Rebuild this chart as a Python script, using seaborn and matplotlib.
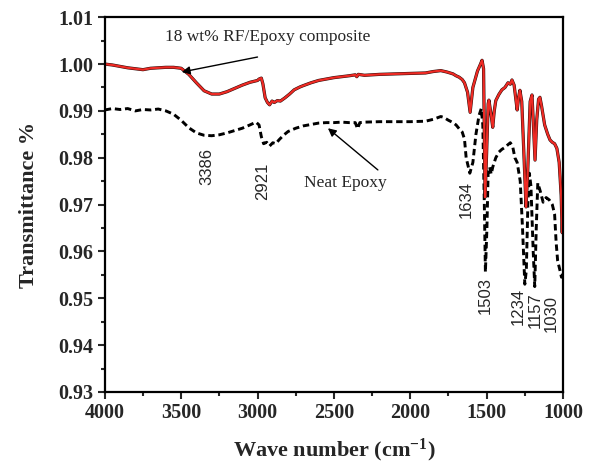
import matplotlib
matplotlib.use("Agg")
import matplotlib.pyplot as plt
import seaborn as sns
import pandas as pd
from matplotlib.ticker import AutoMinorLocator

# ---- data ----
wn_composite = [4000, 3950, 3900, 3850, 3800, 3750, 3700, 3650, 3600, 3550, 3500, 3450, 3400, 3350,
                3300, 3250, 3200, 3150, 3100, 3050, 3000, 2990, 2975, 2965, 2950, 2935, 2921, 2905,
                2890, 2870, 2850, 2820, 2790, 2760, 2723, 2700, 2650, 2600, 2550, 2500, 2450, 2400,
                2360, 2350, 2340, 2300, 2250, 2200, 2100, 2000, 1900, 1850, 1800, 1760, 1720, 1700,
                1680, 1660, 1645, 1625, 1608, 1590, 1560, 1540, 1530, 1520, 1510, 1500, 1490, 1485,
                1470, 1460, 1450, 1440, 1420, 1400, 1380, 1360, 1345, 1334, 1320, 1300, 1290, 1282,
                1270, 1255, 1242, 1232, 1215, 1203, 1195, 1183, 1172, 1160, 1151, 1140, 1120, 1100,
                1085, 1070, 1055, 1040, 1025, 1012, 1005, 1000]
t_composite = [1.0000, 0.9998, 0.9995, 0.9992, 0.9990, 0.9988, 0.9991, 0.9992, 0.9993, 0.9993, 0.9991,
               0.9978, 0.9960, 0.9943, 0.9936, 0.9936, 0.9941, 0.9948, 0.9955, 0.9961, 0.9965, 0.9968,
               0.9970, 0.9958, 0.9928, 0.9918, 0.9913, 0.9921, 0.9918, 0.9922, 0.9921, 0.9928, 0.9936,
               0.9945, 0.9951, 0.9954, 0.9960, 0.9965, 0.9968, 0.9971, 0.9973, 0.9975, 0.9977, 0.9973,
               0.9978, 0.9976, 0.9977, 0.9978, 0.9979, 0.9980, 0.9981, 0.9984, 0.9986, 0.9983, 0.9979,
               0.9975, 0.9972, 0.9967, 0.9960, 0.9940, 0.9897, 0.9950, 0.9985, 1.0000, 1.0008, 0.9990,
               0.9716, 0.9810, 0.9915, 0.9923, 0.9890, 0.9865, 0.9900, 0.9922, 0.9935, 0.9945, 0.9950,
               0.9960, 0.9957, 0.9966, 0.9955, 0.9902, 0.9930, 0.9944, 0.9920, 0.9800, 0.9695, 0.9760,
               0.9920, 0.9934, 0.9880, 0.9795, 0.9880, 0.9925, 0.9929, 0.9910, 0.9870, 0.9850, 0.9838,
               0.9833, 0.9830, 0.9820, 0.9790, 0.9720, 0.9640, 0.9700]

wn_neat = [4000, 3950, 3900, 3850, 3800, 3750, 3700, 3650, 3600, 3550, 3500, 3450, 3400, 3350, 3300,
           3250, 3200, 3150, 3100, 3050, 3010, 2990, 2975, 2960, 2940, 2921, 2900, 2880, 2860, 2830,
           2800, 2750, 2700, 2650, 2600, 2550, 2500, 2450, 2400, 2360, 2345, 2330, 2300, 2200, 2100,
           2000, 1900, 1850, 1800, 1780, 1750, 1720, 1700, 1680, 1660, 1645, 1634, 1610, 1590, 1570,
           1550, 1535, 1525, 1515, 1508, 1498, 1490, 1480, 1470, 1460, 1440, 1420, 1400, 1380, 1360,
           1345, 1330, 1315, 1300, 1280, 1265, 1250, 1240, 1230, 1220, 1210, 1195, 1185, 1175, 1165,
           1150, 1130, 1110, 1090, 1070, 1055, 1045, 1035, 1020, 1010, 1003, 1000]
t_neat = [0.9902, 0.9905, 0.9903, 0.9905, 0.9900, 0.9903, 0.9902, 0.9904, 0.9900, 0.9893, 0.9880,
          0.9864, 0.9853, 0.9848, 0.9847, 0.9849, 0.9853, 0.9858, 0.9863, 0.9870, 0.9876, 0.9870,
          0.9845, 0.9830, 0.9833, 0.9825, 0.9832, 0.9830, 0.9838, 0.9848, 0.9856, 0.9863, 0.9868,
          0.9871, 0.9874, 0.9875, 0.9875, 0.9876, 0.9875, 0.9875, 0.9862, 0.9875, 0.9876, 0.9877,
          0.9877, 0.9877, 0.9878, 0.9882, 0.9888, 0.9886, 0.9880, 0.9875, 0.9870, 0.9862, 0.9855,
          0.9840, 0.9800, 0.9767, 0.9790, 0.9850, 0.9890, 0.9905, 0.9870, 0.9700, 0.9556, 0.9650,
          0.9770, 0.9780, 0.9765, 0.9780, 0.9800, 0.9812, 0.9818, 0.9822, 0.9828, 0.9832, 0.9825,
          0.9800, 0.9790, 0.9750, 0.9650, 0.9530, 0.9560, 0.9700, 0.9767, 0.9740, 0.9600, 0.9525,
          0.9650, 0.9746, 0.9730, 0.9705, 0.9715, 0.9710, 0.9700, 0.9680, 0.9620, 0.9580, 0.9560,
          0.9545, 0.9550, 0.9560]

peak_labels = ["3386", "2921", "1634", "1503", "1234", "1157", "1030"]
peak_x = [3332, 2965, 1635, 1510, 1290, 1180, 1075]
peak_y = [0.9821, 0.9789, 0.9750, 0.9546, 0.9522, 0.9512, 0.9507]

x_ticks = [4000, 3500, 3000, 2500, 2000, 1500, 1000]
y_ticks = [0.93, 0.94, 0.95, 0.96, 0.97, 0.98, 0.99, 1.00, 1.01]

df_c = pd.DataFrame({"wn": wn_composite, "T": t_composite})
df_n = pd.DataFrame({"wn": wn_neat, "T": t_neat})

sns.set_style("ticks")
plt.rcParams["font.family"] = ["Liberation Serif", "DejaVu Serif"]
plt.rcParams["mathtext.fontset"] = "custom"
plt.rcParams["mathtext.rm"] = "Liberation Serif"
plt.rcParams["mathtext.bf"] = "Liberation Serif:bold"
plt.rcParams["mathtext.it"] = "Liberation Serif:italic"

fig = plt.figure(figsize=(5.92, 4.65), dpi=100)
ax = fig.add_axes([0.177, 0.157, 0.774, 0.806])

sns.lineplot(data=df_n, x="wn", y="T", ax=ax, sort=False, color="black",
             linewidth=2.1, estimator=None)
ax.lines[-1].set_dashes([2.2, 1.3])
sns.lineplot(data=df_c, x="wn", y="T", ax=ax, sort=False, color="#2a0a08",
             linewidth=2.3, estimator=None)
sns.lineplot(data=df_c, x="wn", y="T", ax=ax, sort=False, color="#ee2a24",
             linewidth=1.6, estimator=None)

ax.set_xlim(4000, 1000)
ax.set_ylim(0.93, 1.01)
ax.set_xticks(x_ticks)
ax.set_yticks(y_ticks)
ax.set_yticklabels([f"{v:.2f}" for v in y_ticks])
ax.xaxis.set_minor_locator(AutoMinorLocator(2))
ax.yaxis.set_minor_locator(AutoMinorLocator(2))
ax.tick_params(which="major", direction="out", length=5, width=1.5, labelsize=14.5, pad=3)
ax.tick_params(which="minor", direction="out", length=3, width=1.5)
for lab in ax.get_xticklabels() + ax.get_yticklabels():
    lab.set_fontweight("bold")
for s in ax.spines.values():
    s.set_linewidth(1.6)
    s.set_color("black")

ax.set_xlabel(r"Wave number (cm$^{\mathbf{-1}}$)", fontsize=16, fontweight="bold", labelpad=10)
ax.set_ylabel("Transmittance %", fontsize=16, fontweight="bold", labelpad=14)

for lab, x, y in zip(peak_labels, peak_x, peak_y):
    ax.text(x, y, lab, rotation=90, ha="center", va="top", fontsize=12,
            family=["Liberation Sans", "DejaVu Sans"])

ax.text(3607, 1.0040, "18 wt% RF/Epoxy composite", fontsize=12.5, ha="left", va="bottom")
ax.annotate("", xy=(3496, 0.9983), xytext=(3000, 1.0015),
            arrowprops=dict(arrowstyle="-|>", color="black", lw=1.0, mutation_scale=12,
                            shrinkA=0, shrinkB=0))
ax.text(2428, 0.9746, "Neat Epoxy", fontsize=12.5, ha="center", va="center")
ax.annotate("", xy=(2539, 0.9863), xytext=(2212, 0.9774),
            arrowprops=dict(arrowstyle="-|>", color="black", lw=1.0, mutation_scale=12,
                            shrinkA=0, shrinkB=0))

fig.savefig("out.png", dpi=100)
